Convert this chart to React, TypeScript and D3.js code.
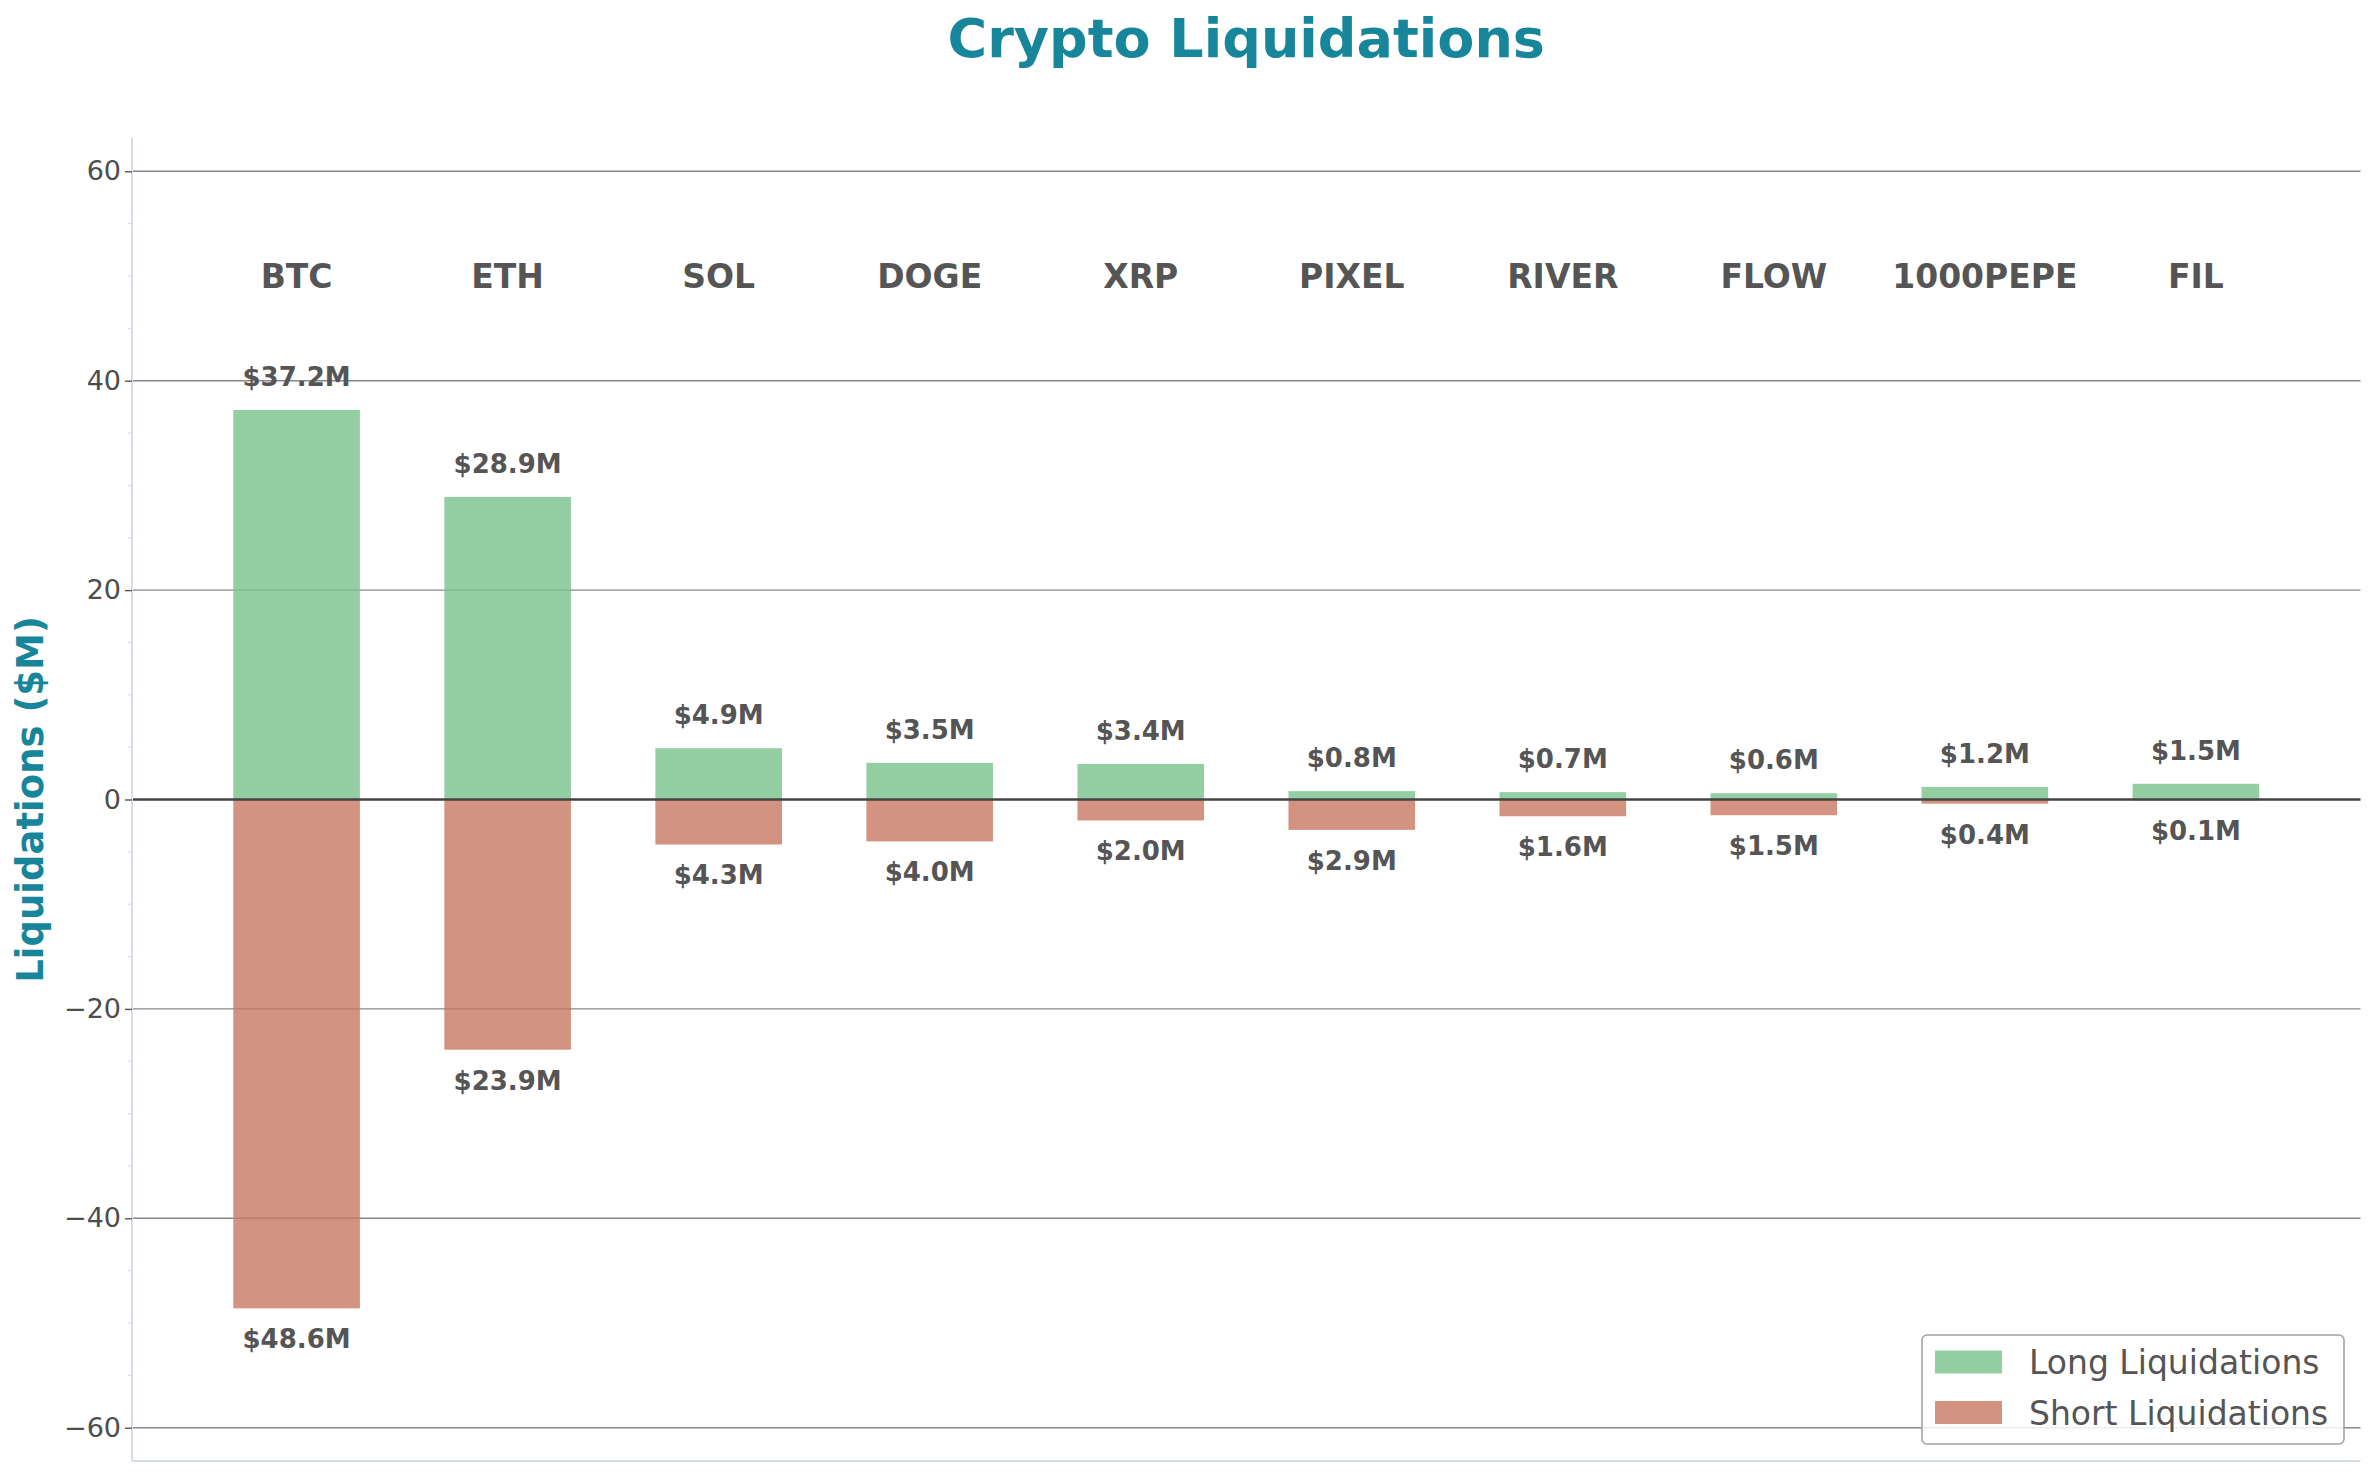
import { useEffect, useRef } from 'react'
import * as d3 from 'd3'

const coins = ['BTC', 'ETH', 'SOL', 'DOGE', 'XRP', 'PIXEL', 'RIVER', 'FLOW', '1000PEPE', 'FIL']
const longLiq = [37.2, 28.9, 4.9, 3.5, 3.4, 0.8, 0.7, 0.6, 1.2, 1.5]
const shortLiq = [48.6, 23.9, 4.3, 4.0, 2.0, 2.9, 1.6, 1.5, 0.4, 0.1]
const majorTicks = [-60, -40, -20, 0, 20, 40, 60]

const W = 2375
const H = 1476
const FONT = '"DejaVu Sans", sans-serif'
const TEAL = '#17859a'
const TEXT = '#555555'
const LONG_COLOR = '#79c28c'
const SHORT_COLOR = '#c97760'

export default function App() {
  const ref = useRef<SVGSVGElement>(null)

  useEffect(() => {
    if (!ref.current) return
    d3.select(ref.current).selectAll('*').remove()
    render(ref.current)
  }, [])

  return (
    <svg
      ref={ref}
      width={W}
      height={H}
      style={{ position: 'absolute', left: 0, top: 0, background: '#fff' }}
    />
  )
}

function render(el: SVGSVGElement) {
  const margin = { top: 138, right: 14.5, bottom: 15, left: 132 }
  const x0 = margin.left
  const x1 = W - margin.right
  const yTop = margin.top
  const yBot = H - margin.bottom

  const svg = d3.select(el).style('font-family', FONT)

  const x = d3.scaleBand().domain(coins).range([x0, x1]).paddingInner(0.4).paddingOuter(0.48)
  const yMax = d3.max([...longLiq, ...shortLiq])! * 1.3
  const y = d3.scaleLinear().domain([-yMax, yMax]).range([yBot, yTop])

  // Grid
  svg.append('g')
    .selectAll('line')
    .data(majorTicks.filter((t) => t !== 0))
    .join('line')
    .attr('x1', x0)
    .attr('x2', x1)
    .attr('y1', (d) => y(d))
    .attr('y2', (d) => y(d))
    .attr('stroke', '#888')
    .attr('stroke-width', 1.4)

  // Bars
  const bw = x.bandwidth()
  svg.append('g')
    .selectAll('rect')
    .data(coins)
    .join('rect')
    .attr('x', (d) => x(d)!)
    .attr('y', (_, i) => y(longLiq[i]))
    .attr('width', bw)
    .attr('height', (_, i) => y(0) - y(longLiq[i]))
    .attr('fill', LONG_COLOR)
    .attr('fill-opacity', 0.8)

  svg.append('g')
    .selectAll('rect')
    .data(coins)
    .join('rect')
    .attr('x', (d) => x(d)!)
    .attr('y', y(0))
    .attr('width', bw)
    .attr('height', (_, i) => y(-shortLiq[i]) - y(0))
    .attr('fill', SHORT_COLOR)
    .attr('fill-opacity', 0.8)

  // Zero line
  svg.append('line')
    .attr('x1', x0)
    .attr('x2', x1)
    .attr('y1', y(0))
    .attr('y2', y(0))
    .attr('stroke', '#444')
    .attr('stroke-width', 2.4)

  // Value labels
  coins.forEach((c, i) => {
    const cx = x(c)! + bw / 2
    svg.append('text')
      .attr('x', cx)
      .attr('y', y(longLiq[i] + 2) - 3)
      .attr('text-anchor', 'middle')
      .attr('font-size', 26)
      .attr('font-weight', 'bold')
      .attr('fill', TEXT)
      .text(`$${longLiq[i].toFixed(1)}M`)
    svg.append('text')
      .attr('x', cx)
      .attr('y', y(-(shortLiq[i] + 2)) + 19)
      .attr('text-anchor', 'middle')
      .attr('font-size', 26)
      .attr('font-weight', 'bold')
      .attr('fill', TEXT)
      .text(`$${shortLiq[i].toFixed(1)}M`)
    // Coin name
    svg.append('text')
      .attr('x', cx)
      .attr('y', y(50) + 12)
      .attr('text-anchor', 'middle')
      .attr('font-size', 33)
      .attr('font-weight', 'bold')
      .attr('fill', TEXT)
      .text(c)
  })

  // Spines
  svg.append('line')
    .attr('x1', x0).attr('x2', x0).attr('y1', yTop).attr('y2', yBot)
    .attr('stroke', '#d6dde9').attr('stroke-width', 2)
  svg.append('line')
    .attr('x1', x0).attr('x2', x1).attr('y1', yBot).attr('y2', yBot)
    .attr('stroke', '#d6dde9').attr('stroke-width', 2)

  // Y axis
  const minorTicks = d3.range(-60, 61, 5).filter((t) => t % 20 !== 0)
  svg.append('g')
    .selectAll('line')
    .data(minorTicks)
    .join('line')
    .attr('x1', x0 - 4)
    .attr('x2', x0)
    .attr('y1', (d) => y(d))
    .attr('y2', (d) => y(d))
    .attr('stroke', '#d6dde9')
    .attr('stroke-width', 1.2)

  const ax = svg.append('g')
    .attr('transform', `translate(${x0},0)`)
    .call(d3.axisLeft(y).tickValues(majorTicks).tickSize(7).tickPadding(4).tickFormat((d) => d3.format('d')(+d).replace('-', '\u2212')))
  ax.select('.domain').remove()
  ax.selectAll('line').attr('stroke', TEXT).attr('stroke-width', 1.4)
  ax.selectAll('text')
    .attr('font-size', 27)
    .attr('font-family', FONT)
    .attr('fill', '#4d4d4d')

  // Y label
  svg.append('text')
    .attr('transform', `translate(43,${(yTop + yBot) / 2}) rotate(-90)`)
    .attr('text-anchor', 'middle')
    .attr('font-size', 37)
    .attr('font-weight', 'bold')
    .attr('fill', TEAL)
    .text('Liquidations ($M)')

  // Title
  svg.append('text')
    .attr('x', (x0 + x1) / 2)
    .attr('y', 57)
    .attr('text-anchor', 'middle')
    .attr('font-size', 54)
    .attr('font-weight', 'bold')
    .attr('fill', TEAL)
    .text('Crypto Liquidations')

  // Legend
  const lg = svg.append('g')
  lg.append('rect')
    .attr('x', 1922)
    .attr('y', 1335)
    .attr('width', 422)
    .attr('height', 109)
    .attr('rx', 5)
    .attr('fill', '#fff')
    .attr('fill-opacity', 0.85)
    .attr('stroke', '#a3a3a3')
    .attr('stroke-width', 1.6)
  ;[
    { label: 'Long Liquidations', color: LONG_COLOR },
    { label: 'Short Liquidations', color: SHORT_COLOR },
  ].forEach(({ label, color }, i) => {
    const cy = 1362 + i * 50.5
    lg.append('rect')
      .attr('x', 1935)
      .attr('y', cy - 11.5)
      .attr('width', 67)
      .attr('height', 23)
      .attr('fill', color)
      .attr('fill-opacity', 0.8)
    lg.append('text')
      .attr('x', 2029)
      .attr('y', cy + 12)
      .attr('font-size', 33)
      .attr('fill', TEXT)
      .text(label)
  })
}
